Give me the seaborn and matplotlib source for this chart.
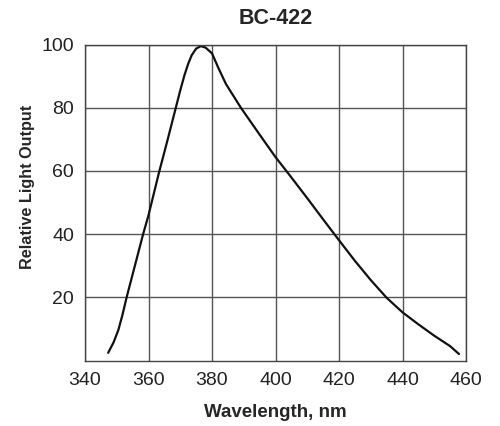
import numpy as np
import pandas as pd
import seaborn as sns
import matplotlib
matplotlib.use("Agg")
import matplotlib.pyplot as plt

# emission spectrum
wavelength = [347.3, 349.0, 350.5, 351.8, 353.1, 355.7, 358.3, 360.0, 363.3, 366.0,
              368.6, 370.0, 371.3, 372.5, 373.6, 375.0, 376.5, 378.0, 380.0, 382.0,
              384.4, 389.1, 395.0, 400.0, 404.2, 410.0, 415.0, 420.0, 425.0, 430.0,
              435.0, 440.0, 445.0, 450.0, 455.0, 457.8]
light_output = [2.5, 5.8, 9.7, 14.5, 20.0, 30.0, 40.0, 46.0, 59.5, 69.8,
                80.0, 85.5, 90.2, 93.9, 96.6, 98.7, 99.5, 99.0, 97.2, 92.6,
                87.5, 80.0, 71.5, 64.4, 59.0, 51.4, 44.7, 38.1, 31.6, 25.5,
                19.9, 15.3, 11.5, 7.9, 4.6, 2.1]

x_ticks = [340, 360, 380, 400, 420, 440, 460]
y_ticks = [20, 40, 60, 80, 100]


def main():
    df = pd.DataFrame({'wavelength': wavelength, 'output': light_output})

    sns.set_style("white")
    plt.rcParams['font.family'] = ['Liberation Sans', 'DejaVu Sans']

    fig = plt.figure(figsize=(5.0, 4.26), dpi=100)
    ax = fig.add_axes([0.17, 0.1533, 0.762, 0.7422])

    sns.lineplot(data=df, x='wavelength', y='output', ax=ax, color='#111111', linewidth=1.6)

    ax.set_xlim(340, 460)
    ax.set_ylim(0, 100)
    ax.set_xticks(x_ticks)
    ax.set_yticks(y_ticks)
    ax.grid(True, color='#555555', linewidth=1.0)
    ax.set_axisbelow(True)
    for spine in ax.spines.values():
        spine.set_color('#444444')
        spine.set_linewidth(1.0)

    ax.tick_params(axis='both', length=0, labelsize=14, colors='#222222', pad=8)

    ax.set_title('BC-422', fontsize=15.5, fontweight='bold', pad=15)
    ax.set_xlabel('Wavelength, nm', fontsize=13.5, fontweight='bold', labelpad=11)
    ax.set_ylabel('Relative Light Output', fontsize=11.7, fontweight='bold')
    ax.yaxis.set_label_coords(-0.13, 0.55)

    fig.savefig('out.png', dpi=100)
    plt.close(fig)


if __name__ == "__main__":
    main()
